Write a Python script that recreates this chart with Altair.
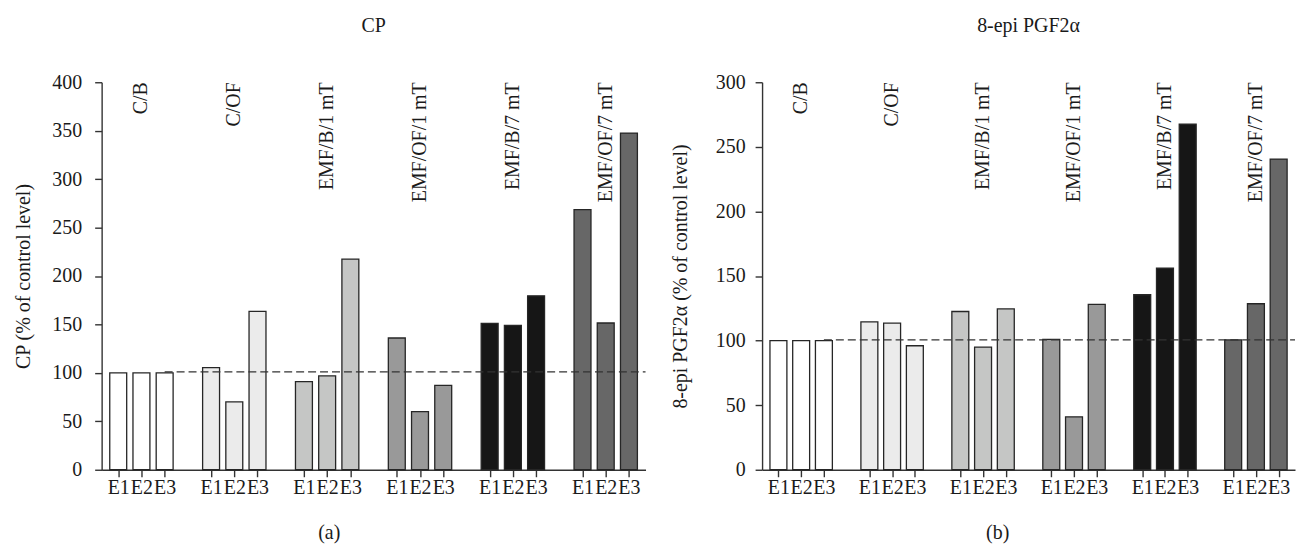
import altair as alt
import pandas as pd

# ---------------- data ----------------
groups = ["C/B", "C/OF", "EMF/B/1 mT", "EMF/OF/1 mT", "EMF/B/7 mT", "EMF/OF/7 mT"]
experiments = ["E1", "E2", "E3"]

cp_values = [100, 100, 100,
             105.5, 70, 163.5,
             91, 97, 217.5,
             136, 60, 87,
             151, 149, 179.5,
             268.5, 151.5, 347.5]
epi_values = [100, 100, 100,
              114.5, 113.5, 96,
              122.5, 95, 124.5,
              101, 41, 128,
              135.5, 156, 267.5,
              100.5, 128.5, 240.5]

cp_ticks = [0, 50, 100, 150, 200, 250, 300, 350, 400]
epi_ticks = [0, 50, 100, 150, 200, 250, 300]
cp_reference = 101
epi_reference = 100.5

# ---------------- styles ----------------
FONT = "Liberation Serif"
FS = 20
TXT = "#1a1a1a"
fills = ["#ffffff", "#ebebeb", "#c5c6c5", "#999999", "#161616", "#676767"]
SLOTS_PER_GROUP = len(experiments) + 1
N_SLOTS = len(groups) * SLOTS_PER_GROUP - 1


def bar_table(values):
    rows = []
    for gi, g in enumerate(groups):
        for ei, e in enumerate(experiments):
            rows.append({"group": g, "exp": e,
                         "slot": gi * SLOTS_PER_GROUP + ei,
                         "value": values[gi * len(experiments) + ei]})
    return pd.DataFrame(rows)


def panel(values, ticks, ref, ytitle, title, sub, width, height,
          ylabel_pad, ytitle_pad, sub_x):
    df = bar_table(values)
    slots = df["slot"].tolist()
    xs = alt.Scale(domain=[-0.5, N_SLOTS - 0.5], nice=False, zero=False)
    ys = alt.Scale(domain=[0, max(ticks)], nice=False)

    x_axis = alt.Axis(
        values=slots,
        labelExpr="['E1','E2','E3',''][datum.value % 4]",
        labelOverlap=False, labelFlush=False, labelBound=False, labelSeparation=0,
        grid=False, tickSize=7, tickWidth=1.4, tickColor="#333333",
        domainColor="#333333", domainWidth=1.4,
        labelFont=FONT, labelFontSize=FS, labelColor=TXT, labelPadding=1,
        title=sub, titleFont=FONT, titleFontSize=FS, titleFontWeight="normal",
        titleColor=TXT, titleX=sub_x, titleY=69.5, titleBaseline="alphabetic",
        titleAnchor="middle",
    )
    y_axis = alt.Axis(
        values=ticks, grid=False, tickSize=7, tickWidth=1.4, tickColor="#333333",
        domainColor="#333333", domainWidth=1.4, labelOverlap=False,
        labelFont=FONT, labelFontSize=FS, labelColor=TXT, labelPadding=ylabel_pad,
        title=ytitle, titleFont=FONT, titleFontSize=FS, titleFontWeight="normal",
        titleColor=TXT, titlePadding=ytitle_pad,
    )

    bars = alt.Chart(df).mark_bar(size=17, stroke="#262626", strokeWidth=1.3).encode(
        x=alt.X("slot:Q", scale=xs, axis=x_axis),
        y=alt.Y("value:Q", scale=ys, axis=y_axis),
        color=alt.Color("group:N", scale=alt.Scale(domain=groups, range=fills), legend=None),
    )

    ref_df = pd.DataFrame({"slot": [len(experiments) - 1], "value": [ref]})
    rule = alt.Chart(ref_df).mark_rule(strokeDash=[8, 4], color="#333333", strokeWidth=1.3).encode(
        x=alt.X("slot:Q", scale=xs, axis=x_axis),
        x2=alt.value(width),
        y=alt.Y("value:Q", scale=ys, axis=y_axis),
    )

    lab_df = pd.DataFrame({"group": groups,
                           "slot": [gi * SLOTS_PER_GROUP + 1 for gi in range(len(groups))]})
    labels = alt.Chart(lab_df).mark_text(
        angle=270, align="right", baseline="middle", font=FONT, fontSize=FS, color=TXT
    ).encode(
        x=alt.X("slot:Q", scale=xs, axis=x_axis),
        y=alt.value(0),
        text="group:N",
    )

    return alt.layer(bars, rule, labels).properties(
        width=width, height=height,
        title=alt.TitleParams(title, font=FONT, fontSize=FS, fontWeight="normal",
                              color=TXT, anchor="middle", baseline="alphabetic", offset=20),
    )


left = panel(cp_values, cp_ticks, cp_reference, "CP (% of control level)", "CP", "(a)",
             546, 389, 13, 18, 228)
right = panel(epi_values, epi_ticks, epi_reference, "8-epi PGF2α (% of control level)",
              "8-epi PGF2α", "(b)", 535, 389, 10, 25, 236)

chart = alt.hconcat(left, right, spacing=24).properties(
    padding={"left": 6, "top": 7.5, "right": 0, "bottom": 0}
).configure_view(stroke=None).configure_axisX(labelOverlap=False)

chart.save("out.html", embed_options={"renderer": "svg", "actions": False})
